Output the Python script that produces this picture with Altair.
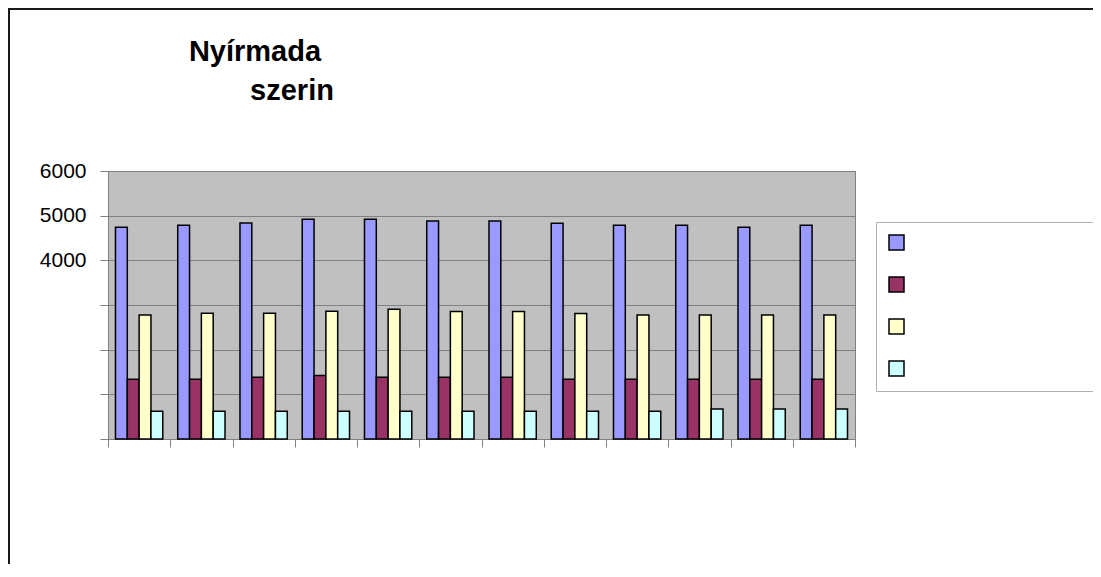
import altair as alt
import pandas as pd

# ---- data ----
categories = ["1", "2", "3", "4", "5", "6", "7", "8", "9", "10", "11", "12"]
series = ["Sorozat1", "Sorozat2", "Sorozat3", "Sorozat4"]
s1 = [4740, 4785, 4835, 4920, 4920, 4880, 4880, 4830, 4785, 4785, 4740, 4785]
s2 = [1340, 1340, 1385, 1420, 1385, 1385, 1385, 1340, 1340, 1340, 1340, 1340]
s3 = [2775, 2815, 2815, 2860, 2905, 2855, 2855, 2810, 2775, 2775, 2775, 2775]
s4 = [620, 620, 620, 620, 620, 620, 620, 620, 620, 670, 670, 670]
colors = ["#9999FF", "#993366", "#FFFFCC", "#CCFFFF"]
y_ticks = [0, 1000, 2000, 3000, 4000, 5000, 6000]
title_lines = ["Nyírmada", "szerin"]

rows = []
for name, vals in zip(series, [s1, s2, s3, s4]):
    for c, v in zip(categories, vals):
        rows.append({"cat": c, "series": name, "value": v})
df = pd.DataFrame(rows)

W, H = 747, 268
FONT = "Liberation Sans"

bars = alt.Chart(df).mark_bar(stroke="black", strokeWidth=1.5).encode(
    x=alt.X(
        "cat:N", sort=categories,
        scale=alt.Scale(paddingInner=0, paddingOuter=0),
        axis=alt.Axis(title=None, labels=False, ticks=True, tickBand="extent",
                      tickSize=8, tickColor="#808080", domain=False, grid=False),
    ),
    xOffset=alt.XOffset("series:N", sort=series,
                        scale=alt.Scale(paddingInner=0, paddingOuter=0.633)),
    y=alt.Y(
        "value:Q",
        scale=alt.Scale(domain=[0, 6000], nice=False),
        axis=alt.Axis(values=y_ticks, title=None, format="d",
                      labelExpr="datum.value >= 4000 ? datum.label : ''",
                      tickSize=8, tickColor="#808080", labelPadding=14,
                      labelFontSize=21, labelColor="black", labelFont=FONT,
                      domain=False, grid=True, gridColor="#808080", gridWidth=1),
    ),
    color=alt.Color(
        "series:N", sort=series,
        scale=alt.Scale(domain=series, range=colors),
        legend=alt.Legend(orient="none", legendX=768, legendY=51, title=None,
                          labelExpr="''", labelOffset=185, labelFontSize=12,
                          symbolType="square", symbolSize=225,
                          symbolStrokeColor="black", symbolStrokeWidth=1.5,
                          symbolOpacity=1, fillColor="white",
                          strokeColor="#b0b0b0", padding=12, rowPadding=21),
    ),
)

one = alt.Data(values=[{}])

frame = alt.Chart(one).mark_rect(filled=False, stroke="#1a1a1a", strokeWidth=2).encode(
    x=alt.value(-99), x2=alt.value(1300), y=alt.value(-162), y2=alt.value(900)
)

t1 = alt.Chart(one).mark_text(
    text=title_lines[0], font=FONT, fontSize=29, fontWeight="bold",
    align="center", baseline="alphabetic", color="black"
).encode(x=alt.value(147), y=alt.value(-110))

t2 = alt.Chart(one).mark_text(
    text=title_lines[1], font=FONT, fontSize=29, fontWeight="bold",
    align="center", baseline="alphabetic", color="black"
).encode(x=alt.value(184), y=alt.value(-71))

chart = alt.layer(frame, bars, t1, t2).properties(
    width=W, height=H,
    padding={"left": 100, "top": 163, "right": 238, "bottom": 125},
    autosize=alt.AutoSizeParams(type="none"),
    background="white",
).configure_view(fill="#C0C0C0", stroke="#808080", strokeWidth=1)

chart.save("out.html", embed_options={"renderer": "svg", "actions": False})
